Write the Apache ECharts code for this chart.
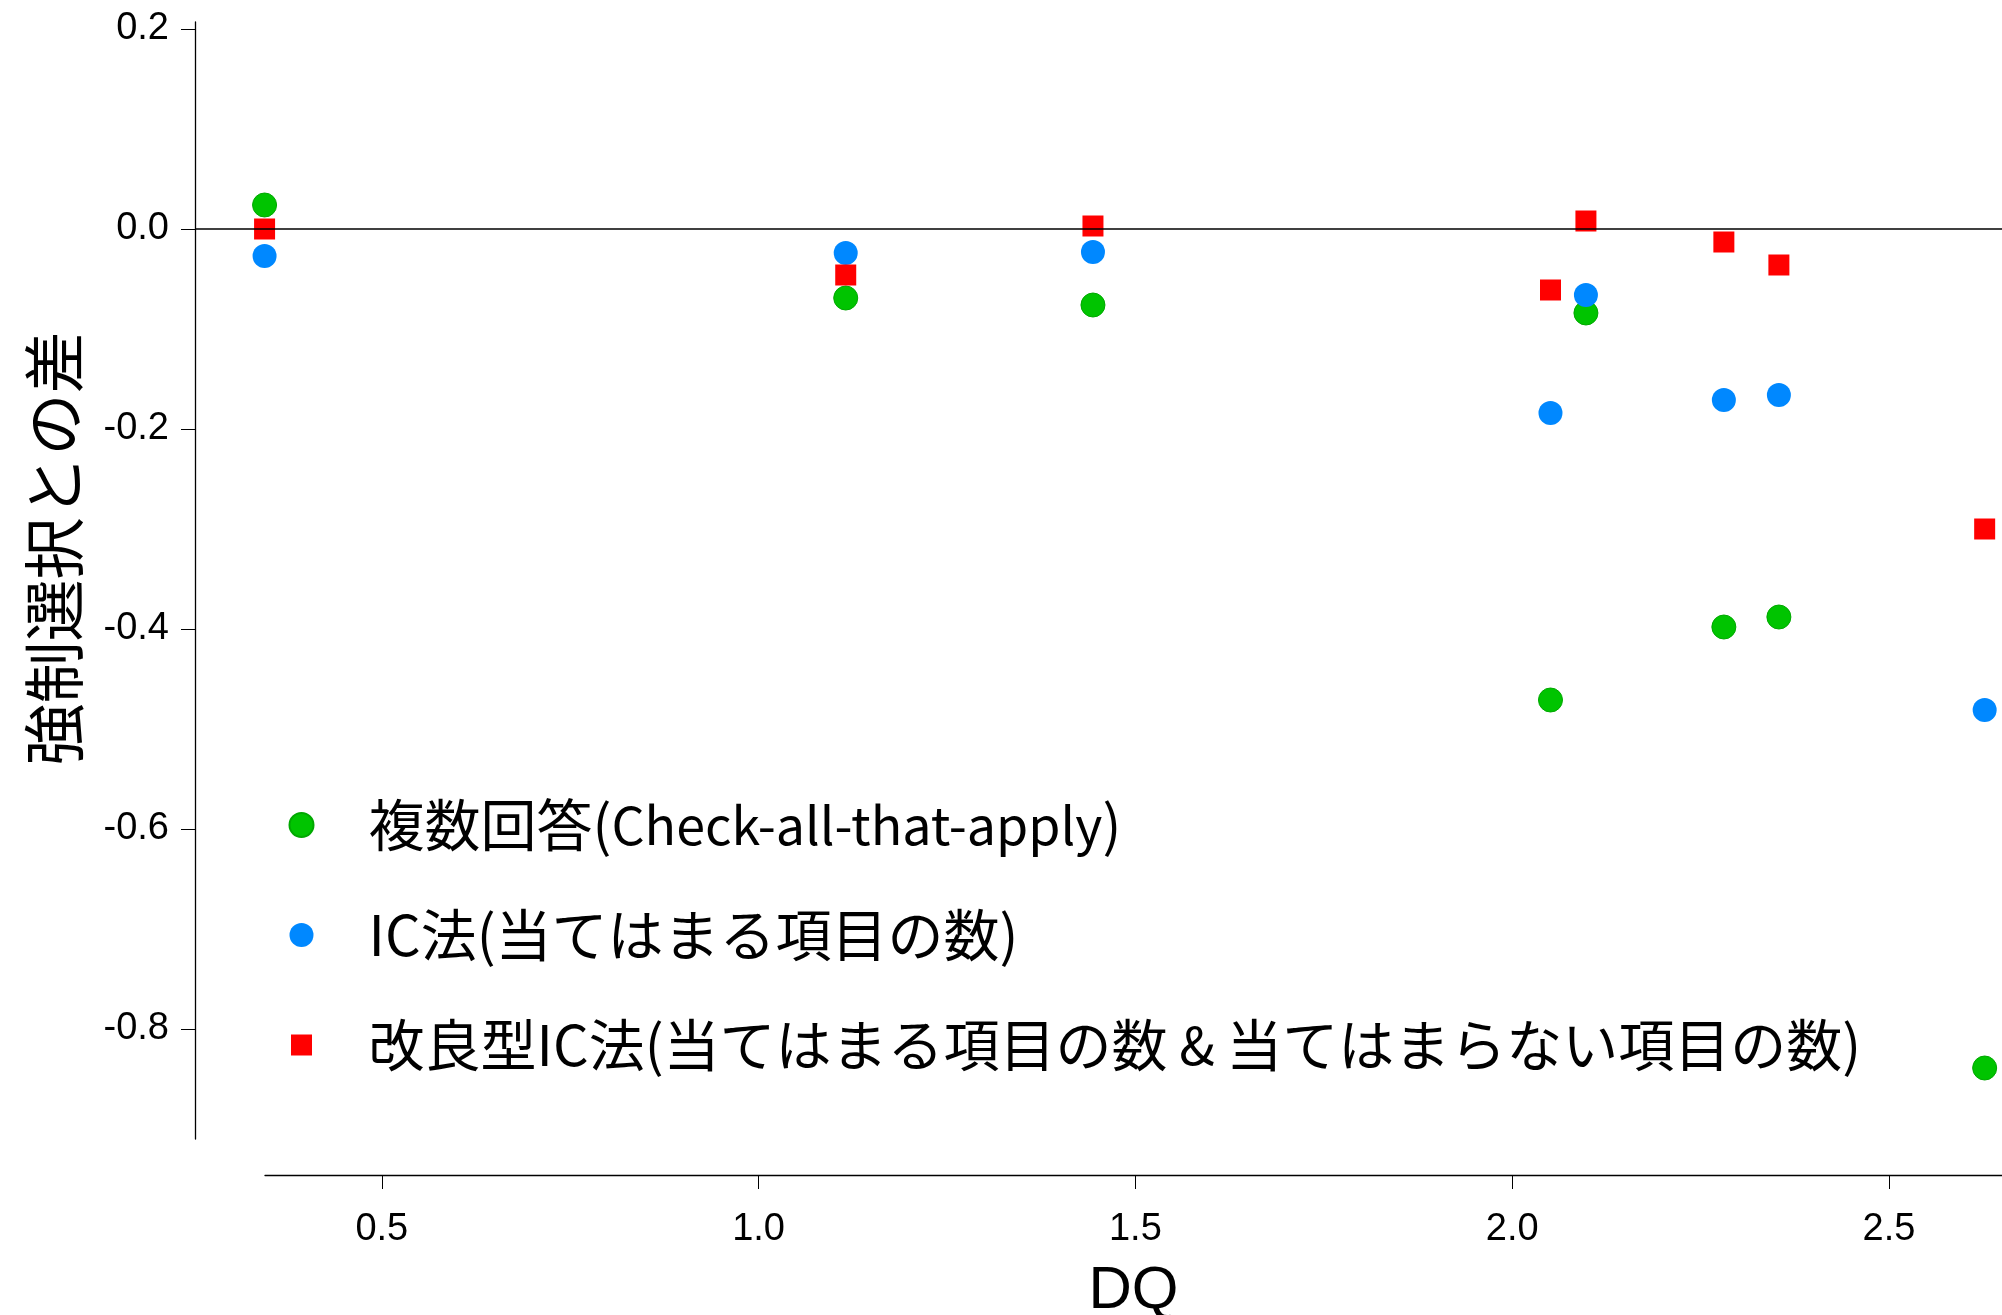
<!DOCTYPE html>
<html>
<head>
<meta charset="utf-8">
<script src="https://cdn.jsdelivr.net/npm/echarts@6/dist/echarts.min.js"></script>
<style>
html,body{margin:0;padding:0;background:#fff;}
#chart{width:2002px;height:1315px;}
</style>
</head>
<body>
<div id="chart"></div>
<script>
// ---- data ----
const dq = [0.345, 1.116, 1.444, 2.051, 2.098, 2.281, 2.354, 2.627];
const cataDiff = [0.024, -0.069, -0.076, -0.471, -0.084, -0.398, -0.388, -0.839];
const icDiff = [-0.027, -0.024, -0.023, -0.184, -0.066, -0.171, -0.166, -0.481];
const modIcDiff = [0.000, -0.046, 0.003, -0.061, 0.008, -0.013, -0.036, -0.300];
const seriesNames = [
  '複数回答(Check-all-that-apply)',
  'IC法(当てはまる項目の数)',
  '改良型IC法(当てはまる項目の数 & 当てはまらない項目の数)'
];
const xTicks = [0.5, 1.0, 1.5, 2.0, 2.5];
const yTicks = [0.2, 0.0, -0.2, -0.4, -0.6, -0.8];
const xAxisTitle = 'DQ';
const yAxisTitle = '強制選択との差';

const pairs = (xs, ys) => xs.map((x, i) => [x, ys[i]]);

const tickFont = 'Liberation Sans, Arial, sans-serif';
const cjkFont = '"Noto Sans CJK JP", sans-serif';

// legend label: Latin runs drawn slightly narrower, as in the reference
function legendLabel(name) {
  return name
    .replace('Check-all-that-apply', '{lat|Check-all-that-apply}')
    .replace(' & ', '{lat| & }');
}

const chart = echarts.init(document.getElementById('chart'), null, {renderer: 'canvas'});
chart.setOption({
  backgroundColor: '#ffffff',
  animation: false,
  grid: [
    {left: 195, right: 0, top: 22, bottom: 176, outerBoundsMode: 'none', containLabel: false},
    {left: 265, right: 0, top: 22, bottom: 176, outerBoundsMode: 'none', containLabel: false}
  ],
  xAxis: [
    {gridIndex: 0, type: 'value', min: 0.2527, max: 2.650, show: false},
    {
      gridIndex: 1, type: 'value', min: 0.345, max: 2.650, offset: 36,
      splitLine: {show: false},
      axisLine: {show: true, onZero: false, lineStyle: {color: '#000', width: 1.3}},
      axisTick: {show: true, length: 14, lineStyle: {color: '#000', width: 1}, customValues: xTicks},
      axisLabel: {
        customValues: xTicks, margin: 36, fontSize: 38, fontFamily: tickFont, color: '#000',
        formatter: v => v.toFixed(1)
      },
      name: xAxisTitle, nameLocation: 'middle', nameGap: 86,
      nameTextStyle: {fontSize: 60, fontFamily: tickFont, color: '#000'}
    }
  ],
  yAxis: [
    {
      gridIndex: 0, type: 'value', min: -0.910, max: 0.207,
      splitLine: {show: false},
      axisLine: {show: true, onZero: false, lineStyle: {color: '#000', width: 1.3}},
      axisTick: {show: true, length: 14, lineStyle: {color: '#000', width: 1}, customValues: yTicks},
      axisLabel: {
        customValues: yTicks, margin: 26, fontSize: 38, fontFamily: tickFont, color: '#000',
        formatter: v => v.toFixed(1)
      },
      name: yAxisTitle, nameLocation: 'middle', nameGap: 110,
      nameTextStyle: {fontSize: 62, fontFamily: cjkFont, color: '#000', padding: [0, 0, 0, 64]}
    },
    {gridIndex: 1, type: 'value', min: -0.910, max: 0.207, show: false}
  ],
  legend: {
    orient: 'vertical', left: 288, top: 797, padding: 0,
    itemWidth: 24, itemHeight: 24, itemGap: 54,
    formatter: legendLabel,
    textStyle: {
      fontSize: 56, fontFamily: cjkFont, color: '#000', lineHeight: 56, padding: [0, 0, 0, 50],
      rich: {lat: {fontSize: 52, fontFamily: cjkFont, color: '#000', lineHeight: 56}}
    },
    data: [
      {name: seriesNames[0], icon: 'circle'},
      {name: seriesNames[1], icon: 'circle'},
      {name: seriesNames[2], icon: 'rect', itemStyle: {borderColor: '#ffffff', borderWidth: 3}}
    ]
  },
  series: [
    {
      name: seriesNames[0], type: 'scatter', xAxisIndex: 0, yAxisIndex: 0,
      symbol: 'circle', symbolSize: 24, clip: false,
      itemStyle: {color: '#00c400', borderColor: '#00a800', borderWidth: 1, opacity: 1},
      data: pairs(dq, cataDiff),
      markLine: {
        silent: true, symbol: ['none', 'none'], label: {show: false},
        lineStyle: {color: '#000', width: 1.5, type: 'solid'},
        data: [{yAxis: 0}]
      },
      z: 2
    },
    {
      name: seriesNames[1], type: 'scatter', xAxisIndex: 0, yAxisIndex: 0,
      symbol: 'circle', symbolSize: 24, clip: false,
      itemStyle: {color: '#0088ff', opacity: 1},
      data: pairs(dq, icDiff),
      z: 3
    },
    {
      name: seriesNames[2], type: 'scatter', xAxisIndex: 0, yAxisIndex: 0,
      symbol: 'rect', symbolSize: 21, clip: false,
      itemStyle: {color: '#ff0000', opacity: 1},
      data: pairs(dq, modIcDiff),
      z: 4
    }
  ]
});
</script>
</body>
</html>
